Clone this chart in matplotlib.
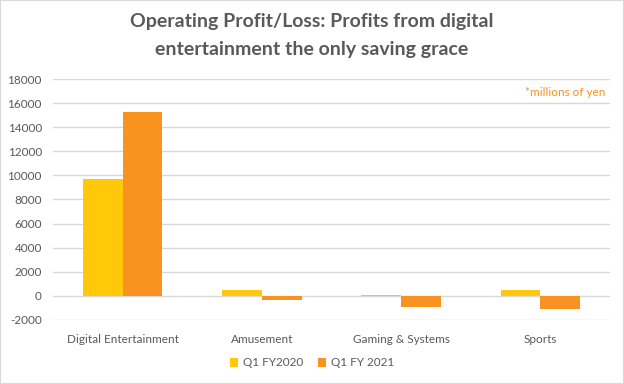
import matplotlib
matplotlib.use("Agg")
import matplotlib.pyplot as plt
import numpy as np

# segments and operating profit/loss (millions of yen)
categories = ["Digital Entertainment", "Amusement", "Gaming & Systems", "Sports"]
q1_fy2020 = [9700, 500, 100, 500]
q1_fy2021 = [15300, -300, -950, -1100]
series_names = ["Q1 FY2020", "Q1 FY 2021"]
yticks = list(range(-2000, 18001, 2000))

plt.rcParams['font.family'] = ['Lato', 'DejaVu Sans']
grey = '#595959'

fig = plt.figure(figsize=(6.24, 3.84), dpi=100)
ax = fig.add_axes([53/624, 1 - 320/384, 557/624, 241/384])

x = np.arange(len(categories))
w = 0.285
ax.bar(x - w/2, q1_fy2020, w, color='#FFC90A', label=series_names[0])
ax.bar(x + w/2, q1_fy2021, w, color='#F7931E', label=series_names[1])

ax.set_xlim(-0.5, len(categories) - 0.5)
ax.set_ylim(-2000, 18000)
ax.set_yticks(yticks)
ax.set_yticklabels([str(v) for v in yticks])
ax.set_xticks(x)
ax.set_xticklabels(categories)
ax.tick_params(axis='both', length=0, colors=grey, labelsize=8.5)
ax.tick_params(axis='y', pad=8)
ax.tick_params(axis='x', pad=10)
ax.grid(axis='y', color='#D9D9D9', linewidth=1)
ax.set_axisbelow(True)
for s in ax.spines.values():
    s.set_visible(False)

fig.text(0.5, 1 - 22/384, "Operating Profit/Loss: Profits from digital",
         ha='center', va='center', fontsize=14, fontweight='bold', color=grey)
fig.text(0.5, 1 - 50/384, "entertainment the only saving grace",
         ha='center', va='center', fontsize=14, fontweight='bold', color=grey)
fig.text(605/624, 1 - 92/384, "*millions of yen", ha='right', va='center',
         fontsize=8.5, color='#F7931E')

fig.legend(loc='center', bbox_to_anchor=(0.5, 1 - 363/384), ncol=2, frameon=False,
           fontsize=8.5, handlelength=0.7, handleheight=0.7, handletextpad=0.4,
           columnspacing=1.2, labelcolor=grey)

fig.patches.append(plt.Rectangle((0, 0), 1, 1, transform=fig.transFigure,
                                 fill=False, edgecolor='#D9D9D9', linewidth=1.5))

fig.savefig("out.png", dpi=100)
